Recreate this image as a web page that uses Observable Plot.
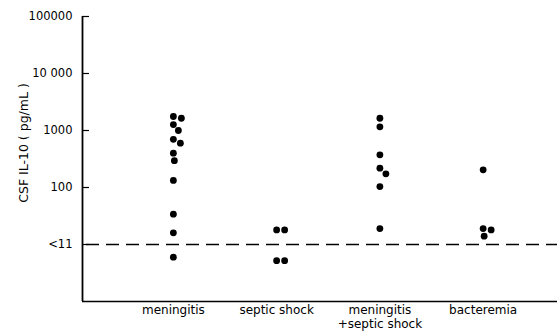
<!DOCTYPE html>
<html><head><meta charset="utf-8">
<script src="https://cdn.jsdelivr.net/npm/d3@7"></script>
<script src="https://cdn.jsdelivr.net/npm/@observablehq/plot@0.6"></script>
<style>body{margin:0;background:#fff}</style>
</head><body><div id="chart"></div>
<script>
// ---- data ----
const categories = ["meningitis", "septic shock", "meningitis\n+septic shock", "bacteremia"];
const meningitis = [1760, 1640, 1270, 1000, 700, 600, 400, 295, 133, 34, 16, 6];
const septicShock = [18, 18, 5.2, 5.2];
const meningitisSeptic = [1640, 1160, 375, 218, 174, 104, 19];
const bacteremia = [204, 19, 14, 18];
const yTicks = [10, 100, 1000, 10000, 100000];
const yTickLabels = ["<11", "100", "1000", "10 000", "100000"];
const detectionLimit = 10;
const yLabel = "CSF IL-10 ( pg/mL )";

// ---- layout ----
const W = 557, H = 335, mL = 82, mR = 0, mT = 16, mB = 34;
const xOpts = {domain: [-0.88, 3.72], range: [mL, W - mR]};
const yOpts = {type: "log", domain: [1, 100000], range: [H - mB, mT]};
const R = 3.4;
const tickLen = 7;

// dodge points horizontally (beeswarm) using the library's scales
const xs = Plot.scale({x: xOpts});
const ys = Plot.scale({y: yOpts});
const groups = [meningitis, septicShock, meningitisSeptic, bacteremia];
const rows = [];
groups.forEach((vals, i) => {
  const placed = [];
  const cx = xs.apply(i);
  vals.forEach(v => {
    const py = ys.apply(v);
    let px = cx;
    for (let k = 0; k < 80; k++) {
      const off = (k % 2 ? 1 : -1) * Math.ceil(k / 2);
      const t = cx + off;
      if (placed.every(p => Math.hypot(p[0] - t, p[1] - py) >= 2 * R + 0.8)) { px = t; break; }
    }
    placed.push([px, py]);
    rows.push({category: categories[i], value: v, x: xs.invert(px)});
  });
});

const chart = Plot.plot({
  width: W, height: H,
  marginLeft: mL, marginRight: mR, marginTop: mT, marginBottom: mB,
  style: {fontFamily: "DejaVu Sans", fontSize: "11px", color: "#000", background: "#fff"},
  x: xOpts,
  y: yOpts,
  marks: [
    Plot.ruleY([detectionLimit], {stroke: "#000", strokeWidth: 1.6, strokeDasharray: "13,7", dx: 4}),
    Plot.ruleY([1], {stroke: "#000", strokeWidth: 1.6}),
    Plot.ruleX([xOpts.domain[0]], {stroke: "#000", strokeWidth: 1.8}),
    Plot.ruleY(yTicks, {x1: xOpts.domain[0], x2: xs.invert(mL + tickLen), stroke: "#000", strokeWidth: 1.2}),
    Plot.axisY({ticks: yTicks, tickFormat: (d) => yTickLabels[yTicks.indexOf(d)], tickSize: 0, tickPadding: 10, label: null, fontSize: 11.5}),
    Plot.axisX({ticks: [0, 1, 2, 3], tickFormat: i => categories[i], tickSize: 0, tickPadding: 3, label: null, fontSize: 12, lineHeight: 1.15}),
    Plot.text([yLabel], {frameAnchor: "left", rotate: -90, textAnchor: "middle", dx: -59, dy: -16, fontSize: 12.5}),
    Plot.dot(rows, {x: "x", y: "value", r: R, fill: "#000", stroke: null})
  ]
});
document.getElementById("chart").appendChild(chart);
</script>
</body></html>
